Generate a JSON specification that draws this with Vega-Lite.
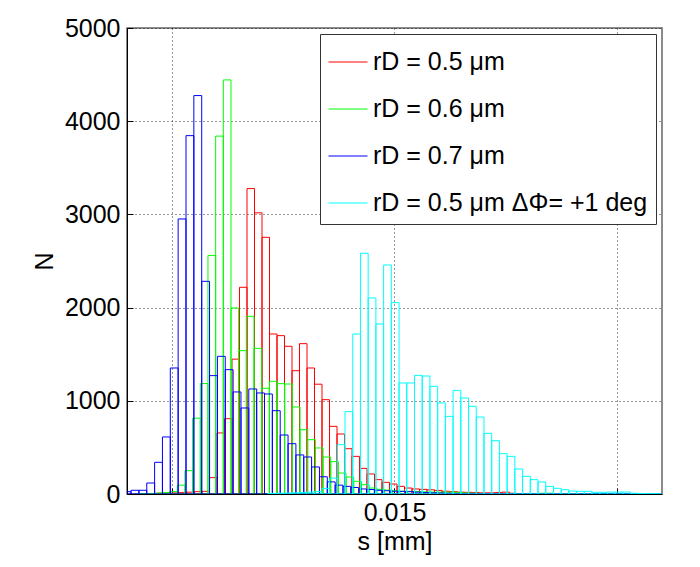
{
  "$schema": "https://vega.github.io/schema/vega-lite/v6.json",
  "width": 535,
  "height": 466,
  "autosize": {"type": "none"},
  "padding": {"left": 127, "top": 28, "right": 38, "bottom": 73},
  "background": "white",
  "data": {"values": [
    {"k":"a","s0":0.0093364,"s1":0.0095046,"n":3},
    {"k":"a","s0":0.0095046,"s1":0.0096729,"n":5},
    {"k":"a","s0":0.0096729,"s1":0.0098411,"n":8},
    {"k":"a","s0":0.0098411,"s1":0.0100093,"n":10},
    {"k":"a","s0":0.0100093,"s1":0.0101776,"n":12},
    {"k":"a","s0":0.0101776,"s1":0.0103458,"n":15},
    {"k":"a","s0":0.0103458,"s1":0.0105140,"n":20},
    {"k":"a","s0":0.0105140,"s1":0.0106823,"n":25},
    {"k":"a","s0":0.0106823,"s1":0.0108505,"n":29},
    {"k":"a","s0":0.0108505,"s1":0.0110187,"n":175},
    {"k":"a","s0":0.0110187,"s1":0.0111870,"n":655},
    {"k":"a","s0":0.0111870,"s1":0.0113552,"n":808},
    {"k":"a","s0":0.0113552,"s1":0.0115234,"n":1447},
    {"k":"a","s0":0.0115234,"s1":0.0116917,"n":2218},
    {"k":"a","s0":0.0116917,"s1":0.0118599,"n":3277},
    {"k":"a","s0":0.0118599,"s1":0.0120281,"n":3017},
    {"k":"a","s0":0.0120281,"s1":0.0121964,"n":2754},
    {"k":"a","s0":0.0121964,"s1":0.0123646,"n":1717},
    {"k":"a","s0":0.0123646,"s1":0.0125328,"n":1699},
    {"k":"a","s0":0.0125328,"s1":0.0127010,"n":1585},
    {"k":"a","s0":0.0127010,"s1":0.0128693,"n":1323},
    {"k":"a","s0":0.0128693,"s1":0.0130375,"n":1613},
    {"k":"a","s0":0.0130375,"s1":0.0132057,"n":1352},
    {"k":"a","s0":0.0132057,"s1":0.0133740,"n":1178},
    {"k":"a","s0":0.0133740,"s1":0.0135422,"n":1012},
    {"k":"a","s0":0.0135422,"s1":0.0137104,"n":726},
    {"k":"a","s0":0.0137104,"s1":0.0138787,"n":644},
    {"k":"a","s0":0.0138787,"s1":0.0140469,"n":486},
    {"k":"a","s0":0.0140469,"s1":0.0142151,"n":404},
    {"k":"a","s0":0.0142151,"s1":0.0143834,"n":275},
    {"k":"a","s0":0.0143834,"s1":0.0145516,"n":215},
    {"k":"a","s0":0.0145516,"s1":0.0147198,"n":154},
    {"k":"a","s0":0.0147198,"s1":0.0148881,"n":125},
    {"k":"a","s0":0.0148881,"s1":0.0150563,"n":107},
    {"k":"a","s0":0.0150563,"s1":0.0152245,"n":82},
    {"k":"a","s0":0.0152245,"s1":0.0153928,"n":64},
    {"k":"a","s0":0.0153928,"s1":0.0155610,"n":54},
    {"k":"a","s0":0.0155610,"s1":0.0157292,"n":50},
    {"k":"a","s0":0.0157292,"s1":0.0158975,"n":45},
    {"k":"a","s0":0.0158975,"s1":0.0160657,"n":39},
    {"k":"a","s0":0.0160657,"s1":0.0162339,"n":30},
    {"k":"a","s0":0.0162339,"s1":0.0164021,"n":25},
    {"k":"a","s0":0.0164021,"s1":0.0165704,"n":20},
    {"k":"a","s0":0.0165704,"s1":0.0167386,"n":18},
    {"k":"a","s0":0.0167386,"s1":0.0169068,"n":15},
    {"k":"a","s0":0.0169068,"s1":0.0170751,"n":12},
    {"k":"a","s0":0.0170751,"s1":0.0172433,"n":12},
    {"k":"a","s0":0.0172433,"s1":0.0174115,"n":15},
    {"k":"a","s0":0.0174115,"s1":0.0175798,"n":20},
    {"k":"a","s0":0.0175798,"s1":0.0177480,"n":8},
    {"k":"a","s0":0.0177480,"s1":0.0179162,"n":5},
    {"k":"a","s0":0.0179162,"s1":0.0180845,"n":4},
    {"k":"a","s0":0.0180845,"s1":0.0182527,"n":3},
    {"k":"a","s0":0.0182527,"s1":0.0184209,"n":3},
    {"k":"a","s0":0.0184209,"s1":0.0185892,"n":2},
    {"k":"a","s0":0.0185892,"s1":0.0187574,"n":2},
    {"k":"a","s0":0.0187574,"s1":0.0189256,"n":1},
    {"k":"a","s0":0.0189256,"s1":0.0190938,"n":1},

    {"k":"b","s0":0.0092680,"s1":0.0094401,"n":3},
    {"k":"b","s0":0.0094401,"s1":0.0096121,"n":5},
    {"k":"b","s0":0.0096121,"s1":0.0097841,"n":10},
    {"k":"b","s0":0.0097841,"s1":0.0099562,"n":15},
    {"k":"b","s0":0.0099562,"s1":0.0101282,"n":25},
    {"k":"b","s0":0.0101282,"s1":0.0103002,"n":95},
    {"k":"b","s0":0.0103002,"s1":0.0104723,"n":250},
    {"k":"b","s0":0.0104723,"s1":0.0106443,"n":813},
    {"k":"b","s0":0.0106443,"s1":0.0108164,"n":1185},
    {"k":"b","s0":0.0108164,"s1":0.0109884,"n":2560},
    {"k":"b","s0":0.0109884,"s1":0.0111604,"n":3840},
    {"k":"b","s0":0.0111604,"s1":0.0113325,"n":4443},
    {"k":"b","s0":0.0113325,"s1":0.0115045,"n":1996},
    {"k":"b","s0":0.0115045,"s1":0.0116766,"n":1538},
    {"k":"b","s0":0.0116766,"s1":0.0118486,"n":1907},
    {"k":"b","s0":0.0118486,"s1":0.0120206,"n":1563},
    {"k":"b","s0":0.0120206,"s1":0.0121927,"n":1134},
    {"k":"b","s0":0.0121927,"s1":0.0123647,"n":1209},
    {"k":"b","s0":0.0123647,"s1":0.0125368,"n":1184},
    {"k":"b","s0":0.0125368,"s1":0.0127088,"n":1180},
    {"k":"b","s0":0.0127088,"s1":0.0128808,"n":934},
    {"k":"b","s0":0.0128808,"s1":0.0130529,"n":690},
    {"k":"b","s0":0.0130529,"s1":0.0132249,"n":583},
    {"k":"b","s0":0.0132249,"s1":0.0133970,"n":494},
    {"k":"b","s0":0.0133970,"s1":0.0135690,"n":397},
    {"k":"b","s0":0.0135690,"s1":0.0137410,"n":347},
    {"k":"b","s0":0.0137410,"s1":0.0139131,"n":225},
    {"k":"b","s0":0.0139131,"s1":0.0140851,"n":182},
    {"k":"b","s0":0.0140851,"s1":0.0142572,"n":136},
    {"k":"b","s0":0.0142572,"s1":0.0144292,"n":100},
    {"k":"b","s0":0.0144292,"s1":0.0146012,"n":64},
    {"k":"b","s0":0.0146012,"s1":0.0147733,"n":50},
    {"k":"b","s0":0.0147733,"s1":0.0149453,"n":42},
    {"k":"b","s0":0.0149453,"s1":0.0151174,"n":35},
    {"k":"b","s0":0.0151174,"s1":0.0152894,"n":30},
    {"k":"b","s0":0.0152894,"s1":0.0154614,"n":28},
    {"k":"b","s0":0.0154614,"s1":0.0156335,"n":25},
    {"k":"b","s0":0.0156335,"s1":0.0158055,"n":22},
    {"k":"b","s0":0.0158055,"s1":0.0159776,"n":20},
    {"k":"b","s0":0.0159776,"s1":0.0161496,"n":20},
    {"k":"b","s0":0.0161496,"s1":0.0163216,"n":20},
    {"k":"b","s0":0.0163216,"s1":0.0164937,"n":18},
    {"k":"b","s0":0.0164937,"s1":0.0166657,"n":12},
    {"k":"b","s0":0.0166657,"s1":0.0168378,"n":8},
    {"k":"b","s0":0.0168378,"s1":0.0170098,"n":6},
    {"k":"b","s0":0.0170098,"s1":0.0171818,"n":5},
    {"k":"b","s0":0.0171818,"s1":0.0173539,"n":4},
    {"k":"b","s0":0.0173539,"s1":0.0175259,"n":3},
    {"k":"b","s0":0.0175259,"s1":0.0176980,"n":3},
    {"k":"b","s0":0.0176980,"s1":0.0178700,"n":2},
    {"k":"b","s0":0.0178700,"s1":0.0180420,"n":2},
    {"k":"b","s0":0.0180420,"s1":0.0182141,"n":5},
    {"k":"b","s0":0.0182141,"s1":0.0183861,"n":8},
    {"k":"b","s0":0.0183861,"s1":0.0185582,"n":8},
    {"k":"b","s0":0.0185582,"s1":0.0187302,"n":6},
    {"k":"b","s0":0.0187302,"s1":0.0189022,"n":3},
    {"k":"b","s0":0.0189022,"s1":0.0190743,"n":1},

    {"k":"c","s0":0.0089148,"s1":0.0090909,"n":25},
    {"k":"c","s0":0.0090909,"s1":0.0092670,"n":40},
    {"k":"c","s0":0.0092670,"s1":0.0094430,"n":40},
    {"k":"c","s0":0.0094430,"s1":0.0096191,"n":118},
    {"k":"c","s0":0.0096191,"s1":0.0097952,"n":340},
    {"k":"c","s0":0.0097952,"s1":0.0099713,"n":612},
    {"k":"c","s0":0.0099713,"s1":0.0101474,"n":1352},
    {"k":"c","s0":0.0101474,"s1":0.0103234,"n":2951},
    {"k":"c","s0":0.0103234,"s1":0.0104995,"n":3845},
    {"k":"c","s0":0.0104995,"s1":0.0106756,"n":4275},
    {"k":"c","s0":0.0106756,"s1":0.0108517,"n":2282},
    {"k":"c","s0":0.0108517,"s1":0.0110278,"n":1270},
    {"k":"c","s0":0.0110278,"s1":0.0112038,"n":1477},
    {"k":"c","s0":0.0112038,"s1":0.0113799,"n":1334},
    {"k":"c","s0":0.0113799,"s1":0.0115560,"n":1095},
    {"k":"c","s0":0.0115560,"s1":0.0117321,"n":923},
    {"k":"c","s0":0.0117321,"s1":0.0119082,"n":1127},
    {"k":"c","s0":0.0119082,"s1":0.0120842,"n":1084},
    {"k":"c","s0":0.0120842,"s1":0.0122603,"n":1073},
    {"k":"c","s0":0.0122603,"s1":0.0124364,"n":894},
    {"k":"c","s0":0.0124364,"s1":0.0126125,"n":633},
    {"k":"c","s0":0.0126125,"s1":0.0127886,"n":540},
    {"k":"c","s0":0.0127886,"s1":0.0129646,"n":419},
    {"k":"c","s0":0.0129646,"s1":0.0131407,"n":397},
    {"k":"c","s0":0.0131407,"s1":0.0133168,"n":290},
    {"k":"c","s0":0.0133168,"s1":0.0134929,"n":185},
    {"k":"c","s0":0.0134929,"s1":0.0136690,"n":130},
    {"k":"c","s0":0.0136690,"s1":0.0138450,"n":95},
    {"k":"c","s0":0.0138450,"s1":0.0140211,"n":82},
    {"k":"c","s0":0.0140211,"s1":0.0141972,"n":70},
    {"k":"c","s0":0.0141972,"s1":0.0143733,"n":54},
    {"k":"c","s0":0.0143733,"s1":0.0145494,"n":48},
    {"k":"c","s0":0.0145494,"s1":0.0147254,"n":40},
    {"k":"c","s0":0.0147254,"s1":0.0149015,"n":35},
    {"k":"c","s0":0.0149015,"s1":0.0150776,"n":30},
    {"k":"c","s0":0.0150776,"s1":0.0152537,"n":28},
    {"k":"c","s0":0.0152537,"s1":0.0154298,"n":25},
    {"k":"c","s0":0.0154298,"s1":0.0156058,"n":20},
    {"k":"c","s0":0.0156058,"s1":0.0157819,"n":15},
    {"k":"c","s0":0.0157819,"s1":0.0159580,"n":12},
    {"k":"c","s0":0.0159580,"s1":0.0161341,"n":10},
    {"k":"c","s0":0.0161341,"s1":0.0163102,"n":8},
    {"k":"c","s0":0.0163102,"s1":0.0164862,"n":6},
    {"k":"c","s0":0.0164862,"s1":0.0166623,"n":5},
    {"k":"c","s0":0.0166623,"s1":0.0168384,"n":4},
    {"k":"c","s0":0.0168384,"s1":0.0170145,"n":3},
    {"k":"c","s0":0.0170145,"s1":0.0171906,"n":3},
    {"k":"c","s0":0.0171906,"s1":0.0173666,"n":2},
    {"k":"c","s0":0.0173666,"s1":0.0175427,"n":2},
    {"k":"c","s0":0.0175427,"s1":0.0177188,"n":1},
    {"k":"c","s0":0.0177188,"s1":0.0178949,"n":1},
    {"k":"c","s0":0.0178949,"s1":0.0180710,"n":1},
    {"k":"c","s0":0.0180710,"s1":0.0182470,"n":0},
    {"k":"c","s0":0.0182470,"s1":0.0184231,"n":0},
    {"k":"c","s0":0.0184231,"s1":0.0185992,"n":0},
    {"k":"c","s0":0.0185992,"s1":0.0187753,"n":0},
    {"k":"c","s0":0.0187753,"s1":0.0189514,"n":0},
    {"k":"c","s0":0.0189514,"s1":0.0191274,"n":0},
    {"k":"c","s0":0.0191274,"s1":0.0193035,"n":0},
    {"k":"c","s0":0.0193035,"s1":0.0194796,"n":0},
    {"k":"c","s0":0.0194796,"s1":0.0196557,"n":0},
    {"k":"c","s0":0.0196557,"s1":0.0198318,"n":0},
    {"k":"c","s0":0.0198318,"s1":0.0200078,"n":0},
    {"k":"c","s0":0.0200078,"s1":0.0201839,"n":0},
    {"k":"c","s0":0.0201839,"s1":0.0203600,"n":0},
    {"k":"c","s0":0.0203600,"s1":0.0205361,"n":0},
    {"k":"c","s0":0.0205361,"s1":0.0207122,"n":0},
    {"k":"c","s0":0.0207122,"s1":0.0208882,"n":0},
    {"k":"c","s0":0.0208882,"s1":0.0210643,"n":0},

    {"k":"d","s0":0.0121586,"s1":0.0123317,"n":5},
    {"k":"d","s0":0.0123317,"s1":0.0125049,"n":8},
    {"k":"d","s0":0.0125049,"s1":0.0126781,"n":10},
    {"k":"d","s0":0.0126781,"s1":0.0128512,"n":12},
    {"k":"d","s0":0.0128512,"s1":0.0130244,"n":15},
    {"k":"d","s0":0.0130244,"s1":0.0131975,"n":20},
    {"k":"d","s0":0.0131975,"s1":0.0133707,"n":25},
    {"k":"d","s0":0.0133707,"s1":0.0135438,"n":60},
    {"k":"d","s0":0.0135438,"s1":0.0137170,"n":170},
    {"k":"d","s0":0.0137170,"s1":0.0138902,"n":529},
    {"k":"d","s0":0.0138902,"s1":0.0140633,"n":884},
    {"k":"d","s0":0.0140633,"s1":0.0142365,"n":1717},
    {"k":"d","s0":0.0142365,"s1":0.0144096,"n":2583},
    {"k":"d","s0":0.0144096,"s1":0.0145828,"n":2103},
    {"k":"d","s0":0.0145828,"s1":0.0147560,"n":1824},
    {"k":"d","s0":0.0147560,"s1":0.0149291,"n":2457},
    {"k":"d","s0":0.0149291,"s1":0.0151023,"n":2053},
    {"k":"d","s0":0.0151023,"s1":0.0152754,"n":1191},
    {"k":"d","s0":0.0152754,"s1":0.0154486,"n":1191},
    {"k":"d","s0":0.0154486,"s1":0.0156218,"n":1273},
    {"k":"d","s0":0.0156218,"s1":0.0157949,"n":1266},
    {"k":"d","s0":0.0157949,"s1":0.0159681,"n":1155},
    {"k":"d","s0":0.0159681,"s1":0.0161412,"n":977},
    {"k":"d","s0":0.0161412,"s1":0.0163144,"n":833},
    {"k":"d","s0":0.0163144,"s1":0.0164876,"n":1112},
    {"k":"d","s0":0.0164876,"s1":0.0166607,"n":1030},
    {"k":"d","s0":0.0166607,"s1":0.0168339,"n":941},
    {"k":"d","s0":0.0168339,"s1":0.0170070,"n":826},
    {"k":"d","s0":0.0170070,"s1":0.0171802,"n":651},
    {"k":"d","s0":0.0171802,"s1":0.0173534,"n":572},
    {"k":"d","s0":0.0173534,"s1":0.0175265,"n":433},
    {"k":"d","s0":0.0175265,"s1":0.0176997,"n":404},
    {"k":"d","s0":0.0176997,"s1":0.0178728,"n":268},
    {"k":"d","s0":0.0178728,"s1":0.0180460,"n":190},
    {"k":"d","s0":0.0180460,"s1":0.0182192,"n":154},
    {"k":"d","s0":0.0182192,"s1":0.0183923,"n":129},
    {"k":"d","s0":0.0183923,"s1":0.0185655,"n":82},
    {"k":"d","s0":0.0185655,"s1":0.0187386,"n":61},
    {"k":"d","s0":0.0187386,"s1":0.0189118,"n":46},
    {"k":"d","s0":0.0189118,"s1":0.0190850,"n":32},
    {"k":"d","s0":0.0190850,"s1":0.0192581,"n":29},
    {"k":"d","s0":0.0192581,"s1":0.0194313,"n":29},
    {"k":"d","s0":0.0194313,"s1":0.0196044,"n":18},
    {"k":"d","s0":0.0196044,"s1":0.0197776,"n":18},
    {"k":"d","s0":0.0197776,"s1":0.0199508,"n":21},
    {"k":"d","s0":0.0199508,"s1":0.0201239,"n":21},
    {"k":"d","s0":0.0201239,"s1":0.0202971,"n":21},
    {"k":"d","s0":0.0202971,"s1":0.0204702,"n":8},
    {"k":"d","s0":0.0204702,"s1":0.0206434,"n":5},
    {"k":"d","s0":0.0206434,"s1":0.0208166,"n":3},
    {"k":"d","s0":0.0208166,"s1":0.0209897,"n":2}
  ]},
  "mark": {"type": "rect", "filled": false, "strokeWidth": 1, "clip": true},
  "encoding": {
    "x": {
      "field": "s0", "type": "quantitative",
      "scale": {"domain": [0.009, 0.021], "nice": false, "zero": false},
      "axis": {
        "title": "s [mm]",
        "values": [0.01, 0.015, 0.02],
        "labelExpr": "abs(datum.value - 0.015) < 1e-9 ? '0.015' : ''",
        "labelPadding": 12,
        "titlePadding": 4
      }
    },
    "x2": {"field": "s1"},
    "y": {
      "field": "n", "type": "quantitative",
      "scale": {"domain": [0, 5000], "nice": false},
      "axis": {
        "title": "N",
        "format": "d",
        "values": [0, 1000, 2000, 3000, 4000, 5000],
        "labelPadding": 13,
        "titlePadding": 7
      }
    },
    "y2": {"datum": 0},
    "color": {
      "field": "k", "type": "nominal",
      "scale": {"domain": ["a", "b", "c", "d"], "range": ["#ff0000", "#00ff00", "#0000ff", "#00ffff"]},
      "legend": {
        "title": null,
        "labelExpr": "datum.value == 'a' ? 'rD = 0.5 μm' : datum.value == 'b' ? 'rD = 0.6 μm' : datum.value == 'c' ? 'rD = 0.7 μm' : 'rD = 0.5 μm ΔΦ= +1 deg'"
      }
    }
  },
  "config": {
    "font": "Liberation Sans",
    "view": {"stroke": "#666666", "strokeWidth": 1.5},
    "axis": {
      "labelFont": "Liberation Sans",
      "labelFontSize": 25,
      "labelColor": "#000000",
      "titleFont": "Liberation Sans",
      "titleFontSize": 25,
      "titleFontWeight": "normal",
      "titleColor": "#000000",
      "domainColor": "#000000",
      "domainWidth": 1,
      "tickColor": "#000000",
      "tickSize": -6,
      "tickWidth": 1,
      "grid": true,
      "gridColor": "#000000",
      "gridOpacity": 0.8,
      "gridDash": [1, 3],
      "gridWidth": 1,
      "labelAngle": 0
    },
    "legend": {
      "orient": "top-right",
      "offset": 6,
      "symbolType": "stroke",
      "symbolSize": 1521,
      "symbolStrokeWidth": 1,
      "labelFont": "Liberation Sans",
      "labelFontSize": 25,
      "labelColor": "#000000",
      "labelLimit": 500,
      "labelOffset": 5,
      "padding": 8,
      "rowPadding": 14,
      "strokeColor": "#333333",
      "fillColor": "#ffffff"
    }
  }
}
